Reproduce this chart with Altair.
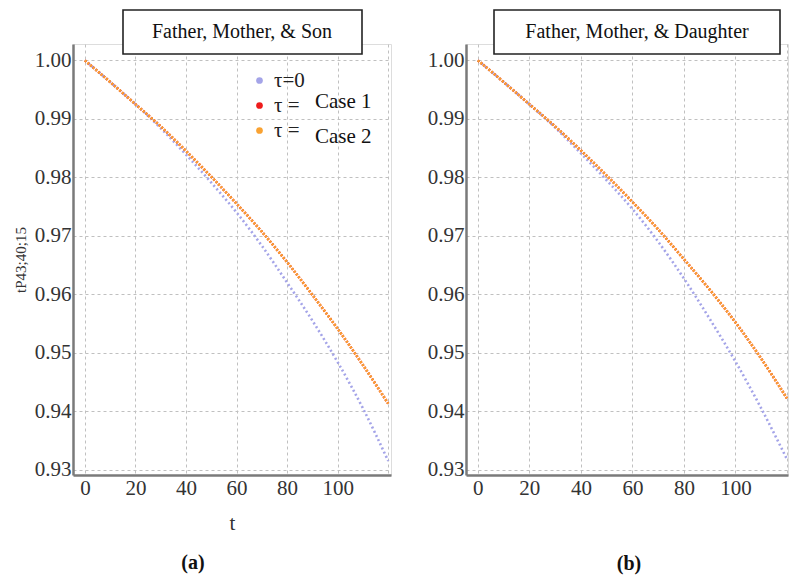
import altair as alt
import pandas as pd

t_values = [0, 10, 20, 30, 40, 50, 60, 70, 80, 90, 100, 110, 120]

son_tau0 = [1.0, 0.9963, 0.9925, 0.9884, 0.9839, 0.9791, 0.9740, 0.9683, 0.9620, 0.9555, 0.9484, 0.9405, 0.9315]
son_case1 = [1.0, 0.9963, 0.9925, 0.9887, 0.9845, 0.9801, 0.9755, 0.9707, 0.9655, 0.9599, 0.9541, 0.9479, 0.9413]
son_case2 = [1.0, 0.9963, 0.9925, 0.9887, 0.9845, 0.9801, 0.9755, 0.9707, 0.9655, 0.9599, 0.9541, 0.9479, 0.9413]

dau_tau0 = [1.0, 0.9963, 0.9925, 0.9885, 0.9841, 0.9795, 0.9746, 0.9690, 0.9627, 0.9558, 0.9485, 0.9405, 0.9318]
dau_case1 = [1.0, 0.9963, 0.9925, 0.9887, 0.9846, 0.9803, 0.9758, 0.9711, 0.9660, 0.9608, 0.9552, 0.9490, 0.9422]
dau_case2 = [1.0, 0.9963, 0.9925, 0.9887, 0.9846, 0.9803, 0.9758, 0.9711, 0.9660, 0.9608, 0.9552, 0.9490, 0.9422]

series_keys = ["tau0", "case1", "case2"]
series_colors = ["#a4a4e8", "#ee1c1c", "#f9a232"]
series_dash = [[2, 2.6], [2, 1.5], [2, 1.5]]

x_ticks = [0, 20, 40, 60, 80, 100, 120]
y_ticks = [0.93, 0.94, 0.95, 0.96, 0.97, 0.98, 0.99, 1.00]

panel_titles = ["Father, Mother, & Son", "Father, Mother, & Daughter"]
panel_letters = ["(a)", "(b)"]
y_title = "tP43;40;15"
x_title = "t"

SERIF = "Liberation Serif"


def make_df(a, b, c):
    rows = []
    for key, vals in zip(series_keys, [a, b, c]):
        for t, v in zip(t_values, vals):
            rows.append({"t": t, "p": v, "series": key})
    return pd.DataFrame(rows)


def panel(df, width, xdom, box_x, box_x2, box_tx, title_text, letter, letter_offset,
          letter_dx, show_legend, show_xtitle, show_ytitle):
    xaxis = alt.Axis(
        values=x_ticks, labelExpr="datum.value == 120 ? '' : datum.label",
        title=x_title if show_xtitle else None, titleFont=SERIF, titleFontSize=21,
        titleFontWeight="normal", titleColor="#333", titlePadding=14,
        labelFont=SERIF, labelFontSize=21, labelColor="#333", labelPadding=2,
        labelFlush=False, ticks=False, domainColor="#7a7a7a", domainWidth=2.5,
        grid=True, gridDash=[3, 3], gridColor="#c0c0c0", gridWidth=1,
    )
    yaxis = alt.Axis(
        values=y_ticks, format=".2f",
        title=y_title if show_ytitle else None, titleFont=SERIF, titleFontSize=15,
        titleFontWeight="normal", titleColor="#333", titlePadding=3,
        labelFont=SERIF, labelFontSize=21, labelColor="#333", labelPadding=2,
        labelFlush=False, ticks=False, domainColor="#7a7a7a", domainWidth=2.5,
        minExtent=42, maxExtent=42,
        grid=True, gridDash=[3, 3], gridColor="#c0c0c0", gridWidth=1,
    )
    xenc = alt.X("t:Q", scale=alt.Scale(domain=xdom, nice=False, zero=False), axis=xaxis)
    yenc = alt.Y("p:Q", scale=alt.Scale(domain=[0.9291, 1.0028], nice=False, zero=False), axis=yaxis)
    cscale = alt.Scale(domain=series_keys, range=series_colors)

    layers = []
    if show_legend:
        legend = alt.Legend(
            title=None, orient="none", legendX=176, legendY=26,
            labelExpr="datum.label == 'tau0' ? 'τ=0' : 'τ ='",
            labelFont=SERIF, labelFontSize=21, labelColor="#222",
            symbolType="circle", symbolSize=45, symbolStrokeWidth=0, symbolOpacity=1,
            rowPadding=3, labelOffset=4,
        )
        layers.append(
            alt.Chart(df).mark_circle(size=0, opacity=1).encode(
                x=xenc, y=yenc, color=alt.Color("series:N", scale=cscale, legend=legend)
            )
        )

    for key, dash in zip(series_keys, series_dash):
        layers.append(
            alt.Chart(df).transform_filter(alt.datum.series == key)
            .mark_line(interpolate="monotone", strokeWidth=2.6, strokeCap="butt", strokeDash=dash)
            .encode(
                x=xenc, y=yenc,
                color=alt.Color("series:N", scale=cscale, legend=None),
            )
        )

    one = pd.DataFrame({"k": [0]})
    box = alt.Chart(one).mark_rect(fill="white", stroke="#222", strokeWidth=1.6).encode(
        x=alt.value(box_x), x2=alt.value(box_x2), y=alt.value(-34), y2=alt.value(10)
    )
    box_text = alt.Chart(one).mark_text(
        font=SERIF, fontSize=20, align="center", baseline="middle", color="#111"
    ).encode(x=alt.value(box_tx), y=alt.value(-12), text=alt.value(title_text))
    layers += [box, box_text]

    if show_legend:
        case1 = alt.Chart(one).mark_text(
            font=SERIF, fontSize=21, align="left", baseline="middle", color="#111"
        ).encode(x=alt.value(242), y=alt.value(58), text=alt.value("Case 1"))
        case2 = alt.Chart(one).mark_text(
            font=SERIF, fontSize=21, align="left", baseline="middle", color="#111"
        ).encode(x=alt.value(242), y=alt.value(93), text=alt.value("Case 2"))
        layers += [case1, case2]

    return alt.layer(*layers).properties(
        width=width, height=431,
        title=alt.TitleParams(
            letter, orient="bottom", anchor="middle", font=SERIF, fontSize=20,
            fontWeight="bold", color="#111", offset=letter_offset, dx=letter_dx,
        ),
    )


df_son = make_df(son_tau0, son_case1, son_case2)
df_dau = make_df(dau_tau0, dau_case1, dau_case2)

left = panel(df_son, 318, [-4.7, 121.1], 50, 289, 169, panel_titles[0], panel_letters[0],
             20, -39, True, True, True)
right = panel(df_dau, 322, [-4.6, 120.4], 28, 314, 171, panel_titles[1], panel_letters[1],
              56, 2, False, False, False)

chart = alt.hconcat(left, right, spacing=29).resolve_scale(
    color="independent"
).properties(
    padding={"left": 4, "top": 0, "right": 0, "bottom": 0}
).configure_view(
    stroke="#8a8a8a", strokeWidth=1.5
).configure(background="white")

chart.save("out.html", embed_options={"renderer": "svg", "actions": False})
